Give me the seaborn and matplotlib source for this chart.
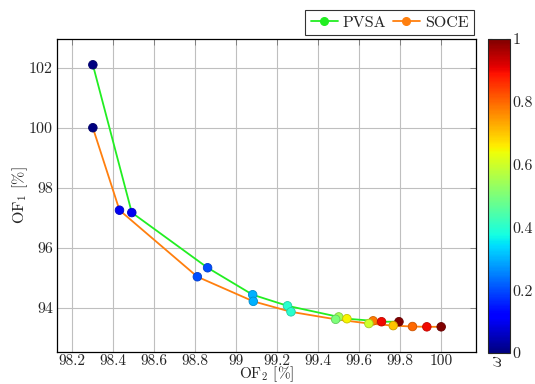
import numpy as np
import pandas as pd
import matplotlib
matplotlib.use("Agg")
import matplotlib.pyplot as plt
import seaborn as sns
from matplotlib.lines import Line2D

sns.set_theme(style="white")
plt.rcParams['font.family'] = ['cmr10', 'DejaVu Serif']
plt.rcParams['mathtext.fontset'] = 'cm'
plt.rcParams['axes.formatter.use_mathtext'] = True

# Data
pvsa_of2 = [98.30, 98.49, 98.86, 99.08, 99.25, 99.50, 99.54, 99.668, 99.709, 99.794]
pvsa_of1 = [102.10, 97.17, 95.33, 94.43, 94.06, 93.69, 93.63, 93.56, 93.53, 93.53]
pvsa_w = [0.0, 0.1, 0.2, 0.3, 0.4, 0.55, 0.65, 0.78, 0.9, 1.0]

soce_of2 = [98.30, 98.43, 98.81, 99.083, 99.267, 99.485, 99.647, 99.766, 99.86, 99.93, 100.0]
soce_of1 = [100.00, 97.25, 95.03, 94.21, 93.86, 93.61, 93.47, 93.40, 93.37, 93.36, 93.36]
soce_w = [0.0, 0.1, 0.2, 0.3, 0.4, 0.5, 0.6, 0.7, 0.8, 0.9, 1.0]

xticks = [98.2, 98.4, 98.6, 98.8, 99.0, 99.2, 99.4, 99.6, 99.8, 100.0]
xticklabels = ["98.2", "98.4", "98.6", "98.8", "99", "99.2", "99.4", "99.6", "99.8", "100"]
yticks = [94, 96, 98, 100, 102]
cticks = [0, 0.2, 0.4, 0.6, 0.8, 1]
cticklabels = ["0", "0.2", "0.4", "0.6", "0.8", "1"]

pvsa = pd.DataFrame({"of2": pvsa_of2, "of1": pvsa_of1, "w": pvsa_w})
soce = pd.DataFrame({"of2": soce_of2, "of1": soce_of1, "w": soce_w})

green = "#22ee22"
orange = "#ff7f0e"

fig = plt.figure(figsize=(5.35, 3.84), dpi=100)
ax = fig.add_axes([57/535, 1-352/384, (476-57)/535, (352-39)/384])
cax = fig.add_axes([488/535, 1-353/384, 22/535, (353-39)/384])

sns.lineplot(data=pvsa, x="of2", y="of1", sort=False, color=green, lw=1.3, ax=ax, zorder=2)
sns.lineplot(data=soce, x="of2", y="of1", sort=False, color=orange, lw=1.3, ax=ax, zorder=2)

cmap = matplotlib.colormaps["jet"]
norm = matplotlib.colors.Normalize(0, 1)
for df in (pvsa, soce):
    sns.scatterplot(data=df, x="of2", y="of1", hue="w", palette=cmap, hue_norm=norm,
                    s=38, edgecolor=[tuple(np.array(cmap(norm(v))[:3]) * 0.8) for v in df["w"]],
                    linewidth=0.6, legend=False, ax=ax, zorder=3)

ax.set_xlim(98.125, 100.17)
ax.set_ylim(92.52, 102.96)
ax.set_xticks(xticks)
ax.set_xticklabels(xticklabels)
ax.set_yticks(yticks)
ax.set_yticklabels([str(v) for v in yticks])
ax.grid(True, color="#bfbfbf", lw=0.8)
ax.set_axisbelow(True)
for sp in ax.spines.values():
    sp.set_color("black")
    sp.set_linewidth(0.9)
ax.tick_params(direction="in", length=4, width=0.7, color="#808080",
               top=True, right=True, labelsize=11.5, pad=3)
ax.tick_params(axis="x", labelsize=11, pad=1.5)
ax.set_xlabel(r"OF$_2$ [%]", fontsize=11)
ax.xaxis.set_label_coords(0.5, -(374.5 - 352) / 313)
ax.xaxis.label.set_va("center")
ax.set_ylabel(r"OF$_1$ [%]", fontsize=11.5)
ax.yaxis.set_label_coords(-(57 - 20) / 419, 0.5)
ax.yaxis.label.set_va("center")

handles = [Line2D([], [], color=green, marker="o", markersize=5.5, lw=1.3),
           Line2D([], [], color=orange, marker="o", markersize=5.5, lw=1.3)]
leg = fig.legend(handles, ["PVSA", "SOCE"], ncol=2, loc="upper right",
                 bbox_to_anchor=(474/535, 1-10/384), borderaxespad=0, fontsize=11.5,
                 frameon=True, fancybox=False, edgecolor="black", handlelength=1.7,
                 columnspacing=0.4, handletextpad=0.3, borderpad=0.35)
leg.get_frame().set_linewidth(0.8)

sm = matplotlib.cm.ScalarMappable(norm=norm, cmap=cmap)
cb = fig.colorbar(sm, cax=cax, ticks=cticks)
cb.ax.set_yticklabels(cticklabels)
cb.ax.tick_params(direction="in", length=3, width=0.8, color="#808080", labelsize=11.5,
                  left=True, right=True, pad=2)
cb.outline.set_linewidth(0.8)
fig.text(497/535, 1-361/384, r"$\omega$", rotation=90, ha="center", va="center", fontsize=12)

fig.savefig("out.png", dpi=100)
